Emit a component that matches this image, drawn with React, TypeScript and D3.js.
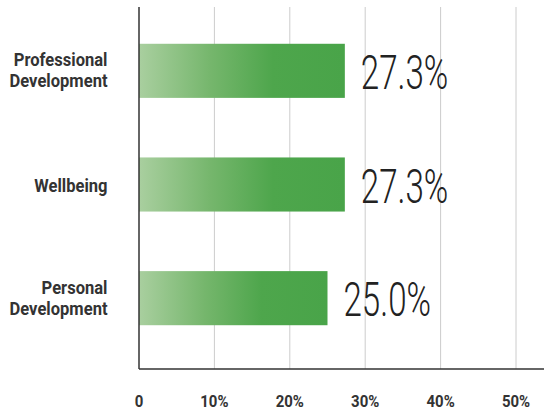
import React from "react";
import * as d3 from "d3";

const categories = ["Professional Development", "Wellbeing", "Personal Development"];
const categoryLines = [["Professional", "Development"], ["Wellbeing"], ["Personal", "Development"]];
const values = [27.3, 27.3, 25.0];
const valueLabels = ["27.3%", "27.3%", "25.0%"];
const ticks = [0, 10, 20, 30, 40, 50];
const tickLabels = ["0", "10%", "20%", "30%", "40%", "50%"];

const W = 544;
const H = 410;

export default function App() {
  const x = d3.scaleLinear().domain([0, 50]).range([139, 516]);
  const y = d3
    .scaleBand<string>()
    .domain(categories)
    .range([14, 355])
    .paddingInner(0.524)
    .paddingOuter(0.262);
  const top = 7;
  const bottom = 369;
  const font = "Roboto, 'Noto Sans', sans-serif";

  return (
    <svg
      width={W}
      height={H}
      style={{ position: "absolute", left: 0, top: 0, display: "block", background: "#fff" }}
    >
      <defs>
        <linearGradient id="barGrad" x1="0" y1="0" x2="1" y2="0">
          <stop offset="0" stopColor="#a9cf9f" />
          <stop offset="0.35" stopColor="#75b66c" />
          <stop offset="0.65" stopColor="#4ea64c" />
          <stop offset="1" stopColor="#49a449" />
        </linearGradient>
      </defs>
      {ticks.slice(1).map((t) => (
        <line key={t} x1={x(t)} x2={x(t)} y1={top} y2={bottom} stroke="#cccccc" strokeWidth={1} />
      ))}
      {categories.map((c, i) => {
        const y0 = y(c)!;
        const bw = y.bandwidth();
        const cy = y0 + bw / 2;
        const x1 = x(values[i]);
        const lines = categoryLines[i];
        return (
          <g key={c}>
            <rect x={x(0)} y={y0} width={x1 - x(0)} height={bw} fill="url(#barGrad)" />
            <text
              transform={`translate(${x1 + 16},${cy + 18}) scale(0.69,1)`}
              fontFamily={font}
              fontWeight={300}
              fontSize={48}
              fill="#222"
            >
              {valueLabels[i]}
            </text>
            {lines.map((ln, j) => {
              const by = lines.length === 1 ? cy + 7 : cy - 4.5 + j * 21;
              return (
                <text
                  key={j}
                  transform={`translate(107.5,${by}) scale(0.92,1)`}
                  textAnchor="end"
                  fontFamily={font}
                  fontWeight={700}
                  fontSize={18}
                  fill="#333"
                >
                  {ln}
                </text>
              );
            })}
          </g>
        );
      })}
      <line x1={x(0)} x2={x(0)} y1={top} y2={bottom} stroke="#333" strokeWidth={1.5} />
      <line x1={x(0)} x2={W} y1={bottom} y2={bottom} stroke="#333" strokeWidth={1.5} />
      {ticks.map((t, i) => (
        <text
          key={t}
          transform={`translate(${x(t)},${407}) scale(0.88,1)`}
          textAnchor="middle"
          fontFamily={font}
          fontWeight={700}
          fontSize={17}
          fill="#333"
        >
          {tickLabels[i]}
        </text>
      ))}
    </svg>
  );
}
